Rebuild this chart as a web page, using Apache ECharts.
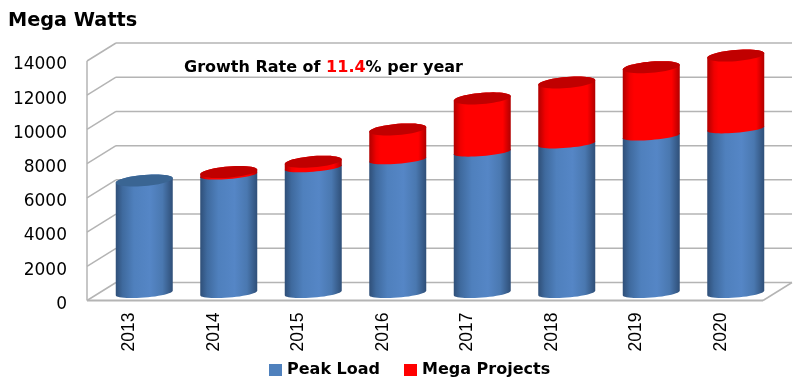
<!DOCTYPE html>
<html>
<head>
<meta charset="utf-8">
<style>html,body{margin:0;padding:0;background:#fff}#c{width:799px;height:389px}</style>
<script src="https://cdn.jsdelivr.net/npm/echarts@6/dist/echarts.min.js"></script>
</head>
<body>
<div id="c"></div>
<script>
const years = ['2013','2014','2015','2016','2017','2018','2019','2020'];
const peakLoad = [6576,6900,7325,7790,8240,8720,9180,9600];
const megaProjects = [0,170,350,1770,3135,3585,4020,4280];
const yTicks = [0,2000,4000,6000,8000,10000,12000,14000];

const DX = 29, DY = -18;        // wall depth of the 3D frame
const OX = 15, OY = -7.5;       // cylinder centre offset from front plane
const RX = 28.5, TILT = 0.08;

function arc(cx, cy, ry, from, to, n) {
  const pts = [];
  for (let i = 0; i <= n; i++) {
    const t = from + (to - from) * i / n;
    pts.push([cx + RX * Math.cos(t), cy + ry * Math.sin(t) - TILT * RX * Math.cos(t)]);
  }
  return pts;
}
function grad(stops) {
  return new echarts.graphic.LinearGradient(0, 0, 1, 0, stops);
}
const blueStops = [
  {offset: 0, color: '#2f4f78'}, {offset: 0.12, color: '#3f6a9e'}, {offset: 0.32, color: '#4f80bd'},
  {offset: 0.6, color: '#5586c6'}, {offset: 0.82, color: '#4a78b0'}, {offset: 1, color: '#2f4f78'}
];
const redStops = [
  {offset: 0, color: '#b00000'}, {offset: 0.12, color: '#f00000'}, {offset: 0.2, color: '#ff0000'},
  {offset: 0.86, color: '#ff0000'}, {offset: 1, color: '#b00000'}
];
function cylinder(params, api, opt) {
  const p0 = api.coord([api.value(0), api.value(1)]);
  const p1 = api.coord([api.value(0), api.value(2)]);
  const cx = p0[0] + OX, y0 = p0[1] + OY, y1 = p1[1] + OY;
  const top = arc(cx, y1, opt.topRy, Math.PI, 2 * Math.PI, 24);
  const bot = arc(cx, y0, opt.botRy, 0, Math.PI, 24);
  const children = [{
    type: 'polygon', shape: {points: top.concat(bot)},
    style: {fill: grad(opt.stops), stroke: null}
  }];
  if (opt.cap) {
    children.push({
      type: 'polygon', shape: {points: arc(cx, y1, opt.topRy, 0, 2 * Math.PI, 48)},
      style: {fill: opt.cap, stroke: null}
    });
  }
  return {type: 'group', children};
}
function renderFrame(params, api) {
  const cs = params.coordSys;
  const y = api.coord([0, api.value(1)])[1];
  const xl = cs.x, xr = cs.x + cs.width;
  const stroke = '#b4b4b4';
  const children = [
    {type: 'line', shape: {x1: xl, y1: y, x2: xl + DX, y2: y + DY}, style: {stroke, lineWidth: 1.5}},
    {type: 'line', shape: {x1: xl + DX, y1: y + DY, x2: xr + DX, y2: y + DY}, style: {stroke, lineWidth: 1.5}}
  ];
  if (api.value(1) === 0) {
    children.push(
      {type: 'line', shape: {x1: xl, y1: y, x2: xr, y2: y}, style: {stroke, lineWidth: 2}},
      {type: 'line', shape: {x1: xr, y1: y, x2: xr + DX, y2: y + DY}, style: {stroke, lineWidth: 1.5}},
      {type: 'line', shape: {x1: xl, y1: y, x2: xl, y2: cs.y}, style: {stroke, lineWidth: 1.5}}
    );
  }
  return {type: 'group', children};
}

const chart = echarts.init(document.getElementById('c'), null, {renderer: 'canvas'});
chart.setOption({
  animation: false,
  backgroundColor: '#fff',
  title: [
    {text: 'Mega Watts', left: 3, top: 6, textStyle: {fontFamily: 'DejaVu Sans', fontSize: 19.3, fontWeight: 'bold', color: '#000'}},
    {text: '{a|Growth Rate of }{r|11.4}{a|% per year}', left: 179, top: 55,
     textStyle: {rich: {
       a: {fontFamily: 'DejaVu Sans', fontSize: 16, fontWeight: 'bold', color: '#000'},
       r: {fontFamily: 'DejaVu Sans', fontSize: 16, fontWeight: 'bold', color: '#ff0000'}
     }}}
  ],
  legend: {
    data: ['Peak Load', 'Mega Projects'], left: 264, top: 357, icon: 'rect',
    itemWidth: 13, itemHeight: 12, itemGap: 24, selectedMode: false,
    textStyle: {fontFamily: 'DejaVu Sans', fontSize: 16, fontWeight: 'bold', color: '#000'}
  },
  grid: {left: 87, right: 36, top: 61, bottom: 88.5},
  xAxis: {
    type: 'category', data: years,
    axisLine: {show: false}, axisTick: {show: false},
    axisLabel: {rotate: 90, margin: 12, fontFamily: 'Liberation Sans', fontSize: 17.5, color: '#000'}
  },
  yAxis: {
    type: 'value', min: 0, max: 14000, interval: 2000,
    axisLine: {show: false}, axisTick: {show: false}, splitLine: {show: false},
    axisLabel: {margin: 20, fontFamily: 'DejaVu Sans', fontSize: 17, color: '#000',
      verticalAlign: 'top', lineHeight: 8, formatter: v => String(v)}
  },
  series: [
    {type: 'custom', name: 'frame', silent: true, clip: false,
     data: yTicks.map(t => [0, t]), encode: {x: 0, y: 1}, renderItem: renderFrame},
    {type: 'custom', name: 'Peak Load', clip: false, itemStyle: {color: '#4f81bd'},
     data: peakLoad.map((v, i) => [i, 0, v]), encode: {x: 0, y: [1, 2]},
     renderItem: (params, api) => {
       const total = megaProjects[params.dataIndex] === 0;
       return cylinder(params, api, {
         topRy: total ? 5.6 : 4, botRy: 4.6, stops: blueStops,
         cap: total ? '#3a6593' : null
       });
     }},
    {type: 'custom', name: 'Mega Projects', clip: false, itemStyle: {color: '#ff0000'},
     data: peakLoad.map((v, i) => [i, v, v + megaProjects[i]]), encode: {x: 0, y: [1, 2]},
     renderItem: (params, api) => {
       if (megaProjects[params.dataIndex] === 0) return null;
       return cylinder(params, api, {
         topRy: 5.6, botRy: 4, stops: redStops, cap: '#c00000'
       });
     }}
  ]
});
</script>
</body>
</html>
